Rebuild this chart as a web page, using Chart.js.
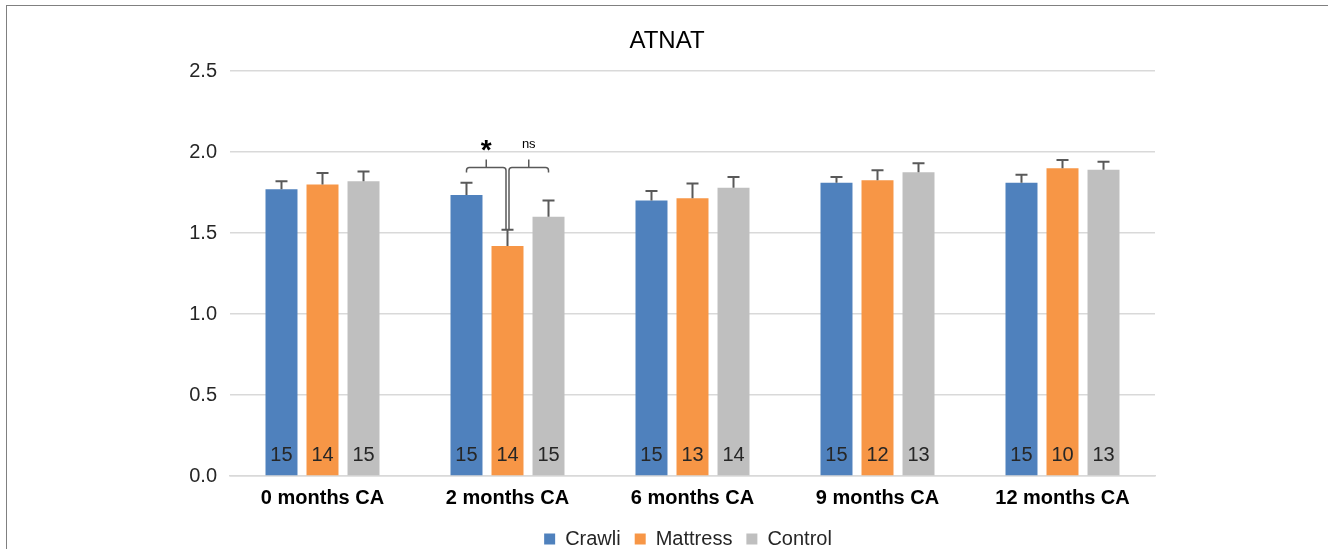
<!DOCTYPE html>
<html>
<head>
<meta charset="utf-8">
<title>ATNAT</title>
<script src="https://cdn.jsdelivr.net/npm/chart.js@4.4.1/dist/chart.umd.min.js"></script>
<style>
    html, body { margin: 0; padding: 0; background: #fff; }
    #wrap { position: relative; width: 1328px; height: 549px; }
    #frame {
        position: absolute; left: 6px; top: 5px; right: 0; bottom: 0;
        border-top: 1px solid #808080; border-left: 1px solid #808080;
        pointer-events: none;
    }
</style>
</head>
<body>
<div id="wrap">
    <canvas id="atnatChart" width="1328" height="549"></canvas>
    <div id="frame"></div>
</div>
<script>
// Data
const categories = ['0 months CA', '2 months CA', '6 months CA', '9 months CA', '12 months CA'];
const seriesNames = ['Crawli', 'Mattress', 'Control'];
const seriesColors = ['#4f81bd', '#f79646', '#bfbfbf'];

const crawliMean = [1.77, 1.735, 1.70, 1.81, 1.81];
const mattressMean = [1.80, 1.42, 1.715, 1.825, 1.90];
const controlMean = [1.82, 1.60, 1.78, 1.875, 1.89];

// standard error (hanya ke atas)
const crawliErr = [0.05, 0.075, 0.06, 0.036, 0.05];
const mattressErr = [0.07, 0.10, 0.09, 0.063, 0.05];
const controlErr = [0.06, 0.10, 0.066, 0.055, 0.05];

// jumlah subjek per bar
const crawliN = [15, 15, 15, 15, 15];
const mattressN = [14, 14, 13, 12, 10];
const controlN = [15, 15, 14, 13, 13];

const yTicks = [0, 0.5, 1.0, 1.5, 2.0, 2.5];

// tanda signifikansi di 2 months CA
const sigCategory = 1;
const sigPairs = [[0, 1], [1, 2]];
const sigLabels = ['*', 'ns'];
const sigLevel = 1.905;

const errors = [crawliErr, mattressErr, controlErr];
const counts = [crawliN, mattressN, controlN];
const FONT = '"Liberation Sans", Arial, sans-serif';

// Plugin: error bar, label N, dan bracket signifikansi
const extrasPlugin = {
    id: 'extras',
    afterLayout(chart) {
        // legend sedikit ke kanan seperti gambar asli
        if (chart.legend) {
            chart.legend.left += 21;
            chart.legend.right += 21;
        }
    },
    afterDatasetsDraw(chart) {
        const ctx = chart.ctx;
        const y = chart.scales.y;
        ctx.save();
        // error bars
        ctx.strokeStyle = '#595959';
        ctx.lineWidth = 2;
        chart.data.datasets.forEach((ds, di) => {
            const meta = chart.getDatasetMeta(di);
            meta.data.forEach((bar, i) => {
                const top = y.getPixelForValue(ds.data[i]);
                const errTop = y.getPixelForValue(ds.data[i] + errors[di][i]);
                ctx.beginPath();
                ctx.moveTo(bar.x, top);
                ctx.lineTo(bar.x, errTop);
                ctx.moveTo(bar.x - 6, errTop);
                ctx.lineTo(bar.x + 6, errTop);
                ctx.stroke();
            });
        });
        // N labels
        ctx.fillStyle = '#262626';
        ctx.font = '20px ' + FONT;
        ctx.textAlign = 'center';
        ctx.textBaseline = 'middle';
        const base = y.getPixelForValue(0);
        chart.data.datasets.forEach((ds, di) => {
            chart.getDatasetMeta(di).data.forEach((bar, i) => {
                ctx.fillText(String(counts[di][i]), bar.x, base - 21);
            });
        });
        // brackets
        ctx.strokeStyle = '#595959';
        ctx.lineWidth = 1.5;
        const level = y.getPixelForValue(sigLevel);
        sigPairs.forEach((pair, k) => {
            const ds = chart.data.datasets;
            const xa = chart.getDatasetMeta(pair[0]).data[sigCategory].x;
            const xb = chart.getDatasetMeta(pair[1]).data[sigCategory].x;
            // ujung yang menuju bar Mattress turun sampai error bar
            const low = (di) => di === 1
                ? y.getPixelForValue(ds[1].data[sigCategory] + errors[1][sigCategory])
                : level + 5;
            const xa2 = pair[0] === 1 ? xa + 1.5 : xa;
            const xb2 = pair[1] === 1 ? xb - 1.5 : xb;
            const r = 3;
            ctx.beginPath();
            ctx.moveTo(xa2, low(pair[0]));
            ctx.lineTo(xa2, level + r);
            ctx.quadraticCurveTo(xa2, level, xa2 + r, level);
            ctx.lineTo(xb2 - r, level);
            ctx.quadraticCurveTo(xb2, level, xb2, level + r);
            ctx.lineTo(xb2, low(pair[1]));
            const mid = (xa2 + xb2) / 2;
            ctx.moveTo(mid, level);
            ctx.lineTo(mid, level - 8);
            ctx.stroke();
            ctx.fillStyle = '#000';
            if (sigLabels[k] === '*') {
                ctx.font = 'bold 28px ' + FONT;
                ctx.fillText(sigLabels[k], mid, level - 16);
            } else {
                ctx.font = '13px ' + FONT;
                ctx.fillText(sigLabels[k], mid, level - 23);
            }
        });
        ctx.restore();
    }
};

const meansList = [crawliMean, mattressMean, controlMean];

new Chart(document.getElementById('atnatChart'), {
    type: 'bar',
    data: {
        labels: categories,
        datasets: seriesNames.map((name, i) => ({
            label: name,
            data: meansList[i],
            backgroundColor: seriesColors[i],
            borderWidth: 0,
            categoryPercentage: 0.665,
            barPercentage: 0.78
        }))
    },
    options: {
        responsive: false,
        animation: false,
        layout: { padding: { left: 6, right: 0, top: 0, bottom: -10 } },
        plugins: {
            title: {
                display: true,
                text: 'ATNAT',
                color: '#000',
                font: { family: FONT, size: 24, weight: 'normal' },
                padding: { top: 26.6, bottom: 15.6 }
            },
            legend: {
                position: 'bottom',
                labels: {
                    color: '#262626',
                    font: { family: FONT, size: 20 },
                    boxWidth: 11,
                    boxHeight: 11,
                    padding: 14
                }
            },
            tooltip: { enabled: false }
        },
        scales: {
            x: {
                grid: { display: false, drawTicks: false },
                border: { display: true, color: '#d9d9d9', width: 1.5 },
                ticks: { color: '#000', font: { family: FONT, size: 20, weight: 'bold' }, padding: 10 },
                afterFit(scale) { scale.height = 39; }
            },
            y: {
                min: 0,
                max: 2.5,
                afterBuildTicks(scale) { scale.ticks = yTicks.map(v => ({ value: v })); },
                grid: { color: '#d9d9d9', lineWidth: 1.5, drawTicks: false },
                border: { display: false },
                ticks: {
                    color: '#262626',
                    font: { family: FONT, size: 20 },
                    padding: 13,
                    callback: v => v.toFixed(1)
                },
                afterFit(scale) { scale.width = 224; }
            },
            // sumbu kosong di kanan, hanya untuk ruang kosong
            yRight: {
                position: 'right',
                display: true,
                grid: { display: false, drawTicks: false },
                border: { display: false },
                ticks: { display: false },
                afterFit(scale) { scale.width = 173; }
            }
        }
    },
    plugins: [extrasPlugin]
});
</script>
</body>
</html>
